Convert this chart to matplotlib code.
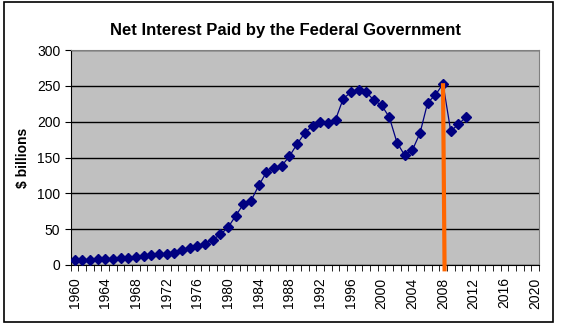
import matplotlib
matplotlib.use("Agg")
import matplotlib.pyplot as plt
import numpy as np

years = list(range(1960, 2021))
data_years = list(range(1960, 2012))
net_interest = [6.9, 6.7, 6.9, 7.7, 8.2, 8.6, 9.4, 10.3, 11.1, 12.7,
                14.4, 14.8, 15.5, 17.3, 21.4, 23.2, 26.7, 29.9, 35.5, 42.6,
                52.5, 68.8, 85.0, 89.8, 111.1, 129.5, 136.0, 138.6, 151.8, 169.0,
                184.3, 194.4, 199.3, 198.7, 202.9, 232.1, 241.1, 244.0, 241.1, 229.8,
                222.9, 206.2, 170.9, 153.1, 160.2, 184.0, 226.6, 237.1, 252.8, 186.9,
                196.2, 206.7]
label_years = list(range(1960, 2021, 4))
marker_year = 2008

plt.rcParams['font.family'] = ['Liberation Sans', 'DejaVu Sans']

fig = plt.figure(figsize=(5.61, 3.27), dpi=100)
ax = fig.add_axes([70.7 / 561, 1 - 265 / 327, (539 - 70.7) / 561, 215 / 327])

# chart border like the Excel chart object
fig.patches.append(plt.Rectangle((4 / 561, 5 / 327), 549 / 561, 320 / 327,
                                 transform=fig.transFigure, fill=False,
                                 edgecolor='black', linewidth=1.2))

ax.set_facecolor('#C0C0C0')
for s in ax.spines.values():
    s.set_color('#808080')
ax.spines['left'].set_color('black')
ax.spines['bottom'].set_color('black')

x = np.array([years.index(y) for y in data_years])
ax.plot(x, net_interest, color='#000080', linewidth=0.9, marker='D',
        markersize=5.5, markerfacecolor='#000080', markeredgecolor='#000080', zorder=3)

# orange marker line at the 2008 peak
i = years.index(marker_year)
peak = net_interest[data_years.index(marker_year)]
ax.plot([i, i + 0.2], [peak - 2, -6], color='#FF6600', linewidth=3,
        clip_on=False, zorder=4)

ax.set_ylim(0, 300)
ax.set_yticks(range(0, 301, 50))
ax.yaxis.grid(True, color='black', linewidth=1)
ax.set_axisbelow(True)

ax.set_xlim(-0.5, len(years) - 0.5)
ax.set_xticks([years.index(y) for y in label_years])
ax.set_xticklabels([str(y) for y in label_years], rotation=90, fontsize=10)
ax.set_xticks(np.arange(-0.5, len(years), 1), minor=True)
ax.tick_params(axis='x', which='major', length=0, pad=9)
ax.tick_params(axis='x', which='minor', length=4, direction='out')
ax.tick_params(axis='y', length=4, labelsize=10, direction='out')

ax.set_ylabel('$ billions', fontsize=10, fontweight='bold', labelpad=5)
fig.text(285 / 561, 1 - 30 / 327, 'Net Interest Paid by the Federal Government',
         ha='center', va='center', fontsize=12, fontweight='bold')

fig.savefig('out.png', dpi=100)
